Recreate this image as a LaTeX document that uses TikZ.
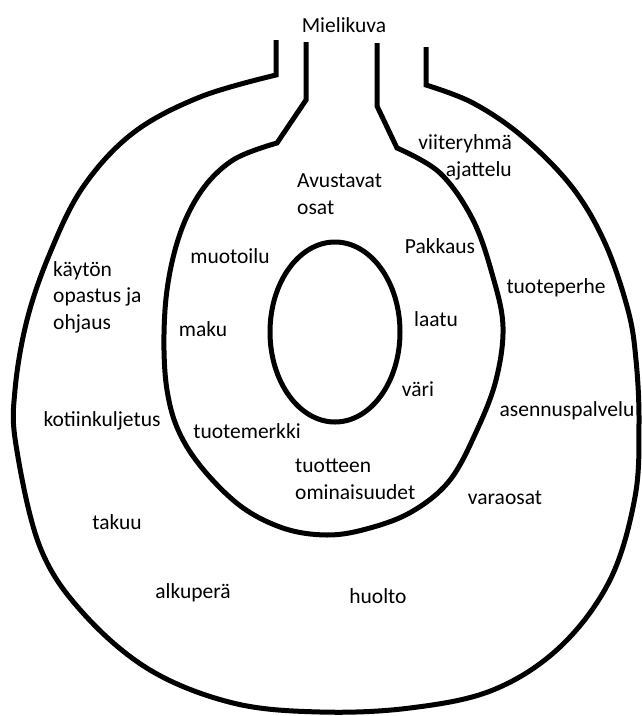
\documentclass[tikz,border=0pt]{standalone}
\usepackage{fontspec}
\setmainfont{Carlito}
\begin{document}
\begin{tikzpicture}[x=1pt,y=-1pt,
  outline/.style={line width=5pt, black},
  lbl/.style={font=\fontsize{21.5}{26.5}\selectfont, inner sep=0pt, text=black}]
\useasboundingbox (0,0) rectangle (641,716);
% outer shape
\draw[outline] (276,40) -- plot[smooth, tension=0.6] coordinates {
  (276,75) (200,97) (133,133) (83,187) (50,253) (27,320) (15,390) (16,445)
  (40,547) (83,613) (150,670) (233,703) (320,712) (410,708) (493,690)
  (560,647) (610,580) (635,497) (639,423) (636,360) (628,310) (605,243)
  (572,187) (523,137) (473,103) (426,85)} -- (426,47);
% middle shape
\draw[outline] (306,42) -- (306,100) -- plot[smooth, tension=0.6] coordinates {
  (277,143) (233,160) (200,193) (177,243) (165,310) (167,390) (187,447)
  (233,500) (280,527) (327,535) (370,528) (413,511) (450,480) (477,430)
  (496,380) (503,327) (493,277) (473,220) (440,173) (397,148)} -- (377,106) -- (377,43);
% inner ellipse
\draw[outline] (335,332) ellipse [x radius=65pt, y radius=90pt];
% labels
\node[lbl, anchor=base] (mieli) at (344,32) {Mielikuva};
\node[lbl, anchor=base east, align=right] (viite) at (512,176) {viiteryhmä\\ajattelu};
\node[lbl, anchor=base west, align=left] (avust) at (297,214) {Avustavat\\osat};
\node[lbl, anchor=base] (muoto) at (230,263) {muotoilu};
\node[lbl, anchor=base west, align=left] (kayton) at (53,329) {käytön\\opastus ja\\ohjaus};
\node[lbl, anchor=base] (maku) at (203,336) {maku};
\node[lbl, anchor=base] (pakk) at (440,253) {Pakkaus};
\node[lbl, anchor=base] (perhe) at (556,293) {tuoteperhe};
\node[lbl, anchor=base] (laatu) at (436,326) {laatu};
\node[lbl, anchor=base] (vari) at (418,396) {väri};
\node[lbl, anchor=base] (asennus) at (567,416) {asennuspalvelu};
\node[lbl, anchor=base] (koti) at (102,426) {kotiinkuljetus};
\node[lbl, anchor=base] (merkki) at (247,438) {tuotemerkki};
\node[lbl, anchor=base west, align=left] (omin) at (295,499) {tuotteen\\ominaisuudet};
\node[lbl, anchor=base] (vara) at (505,504) {varaosat};
\node[lbl, anchor=base] (takuu) at (117,529) {takuu};
\node[lbl, anchor=base] (alku) at (193,598) {alkuperä};
\node[lbl, anchor=base] (huolto) at (378,603) {huolto};
\end{tikzpicture}
\end{document}
